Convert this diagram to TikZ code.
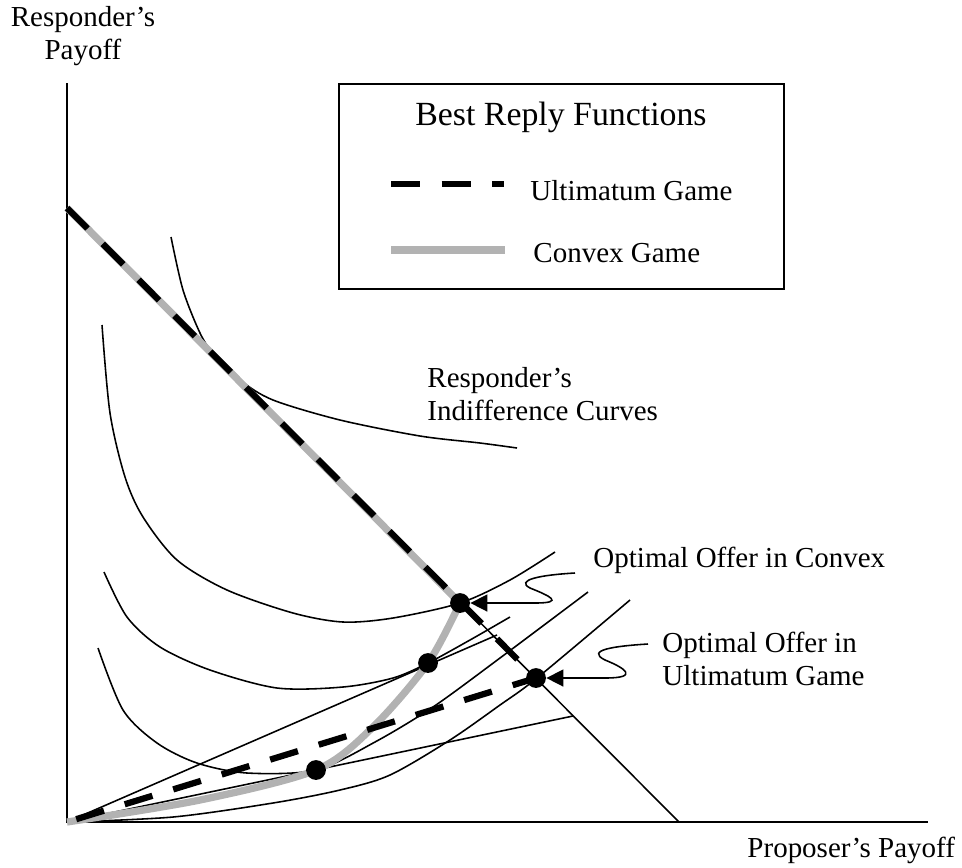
\documentclass[tikz,border=0pt]{standalone}
\usepackage{fontspec}
\setmainfont{Liberation Serif}
\usetikzlibrary{arrows.meta}

\begin{document}
\begin{tikzpicture}[x=0.414pt, y=-0.414pt, font=\fontsize{12}{13.5}\selectfont,
    thin/.style={line width=0.65pt},
    cgame/.style={line width=3pt, draw=black!30},
    ugame/.style={line width=2.6pt, dash pattern=on 12pt off 9pt},
    dot/.style={circle, fill, inner sep=0pt, minimum size=8.2pt},
    pointer/.style={thin, -{Triangle[length=7pt, width=7pt]}}]

    \useasboundingbox (0,0) rectangle (962,867);

    \coordinate (O) at (67,822);
    \coordinate (ytop) at (67,83);
    \coordinate (xend) at (928,822);
    \coordinate (bt) at (67,208);
    \coordinate (bx) at (679,822);

    \draw[thin] (ytop) -- (O) -- (xend);
    \draw[thin] (bt) -- (bx);

    \draw[thin] plot[smooth] coordinates {(171,237) (183,290) (200,333) (213,353) (240,380)
        (273,400) (340,420) (420,436) (480,443) (517,448)};
    \draw[thin] plot[smooth] coordinates {(102,325) (110,413) (125,477) (143,517) (177,560)
        (227,590) (293,613) (343,622) (393,618) (460,603) (510,580) (555,552)};
    \draw[thin] plot[smooth] coordinates {(104,572) (127,617) (160,647) (210,670) (277,688)
        (343,687) (393,678) (428,663) (470,640) (510,617)};
    \draw[thin] plot[smooth] coordinates {(98,648) (123,710) (157,743) (197,763) (247,773)
        (316,770) (375,742) (433,707) (500,658) (588,592)};
    \draw[thin] plot[smooth] coordinates {(67,822) (173,817) (273,803) (340,790) (390,775)
        (450,740) (500,705) (537,678) (630,600)};

    \coordinate (r1) at (497,635);
    \coordinate (r2) at (573,716);
    \draw[thin] (O) -- (r1);
    \draw[thin] (O) -- (r2);

    \draw[cgame] (bt) -- (460,603);
    \draw[cgame] plot[smooth] coordinates {(460,603) (428,663) (373,727) (316,770) (200,800) (67,822)};
    \draw[ugame] (bt) -- (536,678) -- (O);

    \node[dot] (cvx) at (460,603) {};
    \node[dot] (ult) at (536,678) {};
    \node[dot] (midpt) at (428,663) {};
    \node[dot] (lowpt) at (316,770) {};

    \draw[line width=0.8pt] (339,84) rectangle (784,289);
    \node[anchor=base, font=\fontsize{14}{16}\selectfont] (title) at (561,125) {Best Reply Functions};
    \coordinate (ua) at (391,184);
    \coordinate (ub) at (504,184);
    \coordinate (ca) at (391,250);
    \coordinate (cb) at (505,250);
    \draw[ugame] (ua) -- (ub);
    \draw[cgame] (ca) -- (cb);
    \node[anchor=base west, inner sep=0pt] (ulab) at (530,200) {Ultimatum Game};
    \node[anchor=base west, inner sep=0pt] (clab) at (533,262) {Convex Game};

    \node[anchor=base, align=center, inner sep=0pt] (ylab) at (83,59) {Responder's\\Payoff};
    \node[anchor=base west, inner sep=0pt] (xlab) at (747,857) {Proposer's Payoff};
    \node[anchor=base west, align=left, inner sep=0pt] (icurves) at (427,420) {Responder's\\Indifference Curves};
    \node[anchor=base west, inner sep=0pt] (cvxlab) at (593,567) {Optimal Offer in Convex};
    \node[anchor=base west, align=left, inner sep=0pt] (ultlab) at (662,685) {Optimal Offer in\\Ultimatum Game};

    \draw[pointer] (575,573) .. controls (540,575) and (515,580) .. (530,588)
        .. controls (550,596) and (565,603) .. (535,603) -- (cvx);
    \draw[pointer] (648,644) .. controls (615,646) and (585,650) .. (605,660)
        .. controls (625,668) and (640,678) .. (605,678) -- (ult);
\end{tikzpicture}
\end{document}
